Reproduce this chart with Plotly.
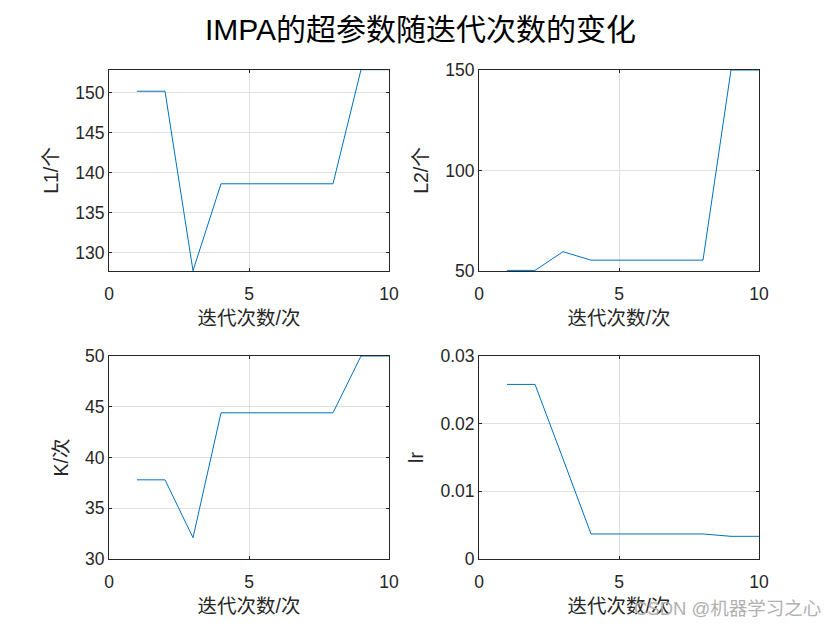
import plotly.graph_objects as go

iters = [1, 2, 3, 4, 5, 6, 7, 8, 9, 10]
L1 = [150.2, 150.2, 127.7, 138.6, 138.6, 138.6, 138.6, 138.6, 152.9, 152.9]
L2 = [50.3, 50.3, 59.6, 55.4, 55.4, 55.4, 55.4, 55.4, 150.0, 150.0]
K = [37.8, 37.8, 32.1, 44.4, 44.4, 44.4, 44.4, 44.4, 50.0, 50.0]
lr = [0.0258, 0.0258, 0.0148, 0.0037, 0.0037, 0.0037, 0.0037, 0.0037, 0.00335, 0.00335]

title = "IMPA的超参数随迭代次数的变化"
xlabel = "迭代次数/次"
ylabels = ["L1/个", "L2/个", "K/次", "lr"]
series = [L1, L2, K, lr]
yranges = [[127.67, 152.86], [50, 150], [30, 50], [0, 0.03]]
yticks = [[130, 135, 140, 145, 150], [50, 100, 150], [30, 35, 40, 45, 50], [0, 0.01, 0.02, 0.03]]
xticks = [0, 5, 10]

W, H = 840, 630
FONT = "Arial, 'Liberation Sans', 'Noto Sans CJK SC'"
TXT = "#262626"
LINE = "#0072BD"

# axes boxes in pixels (left, right, top, bottom)
boxes = [(109, 389, 70, 271), (479, 759, 70, 271), (109, 389, 356, 559), (479, 759, 356, 559)]

fig = go.Figure()
layout = dict(
    width=W, height=H, margin=dict(l=0, r=0, t=0, b=0, autoexpand=False),
    paper_bgcolor="white", plot_bgcolor="white", showlegend=False,
    font=dict(family=FONT, color=TXT, size=16),
)
for i, (l, r, t, b) in enumerate(boxes):
    n = "" if i == 0 else str(i + 1)
    xa, ya = "x" + n, "y" + n
    fig.add_trace(go.Scatter(x=iters, y=series[i], mode="lines",
                             line=dict(color=LINE, width=1), xaxis=xa, yaxis=ya,
                             hoverinfo="skip"))
    common = dict(showline=True, linecolor=TXT, linewidth=1, mirror="ticks",
                  ticks="inside", ticklen=3, tickcolor=TXT, showgrid=True,
                  gridcolor="#DFDFDF", gridwidth=1, zeroline=False, automargin=False,
                  tickfont=dict(size=17.5, family=FONT, color=TXT))
    layout["xaxis" + n] = dict(common, domain=[l / W, r / W], range=[0, 10],
                               tickvals=xticks, anchor=ya, ticklabelstandoff=7,
                               title=dict(text=xlabel, font=dict(size=19.5, family=FONT, color=TXT), standoff=8))
    layout["yaxis" + n] = dict(common, domain=[1 - b / H, 1 - t / H], range=yranges[i],
                               tickvals=yticks[i], anchor=xa,
                               title=dict(text=ylabels[i], font=dict(size=19.5, family=FONT, color=TXT), standoff=11))

layout["annotations"] = [
    dict(text=title, x=0.5, y=1 - 29 / H, xref="paper", yref="paper", showarrow=False,
         xanchor="center", yanchor="middle", font=dict(size=30, family=FONT, color="black")),
    dict(text="CSDN @机器学习之心", x=823 / W, y=1 - 608 / H, xref="paper", yref="paper",
         showarrow=False, xanchor="right", yanchor="middle",
         font=dict(size=18.5, family=FONT, color="#B0B0B0")),
]
fig.update_layout(**layout)
fig.write_html("out.html")
